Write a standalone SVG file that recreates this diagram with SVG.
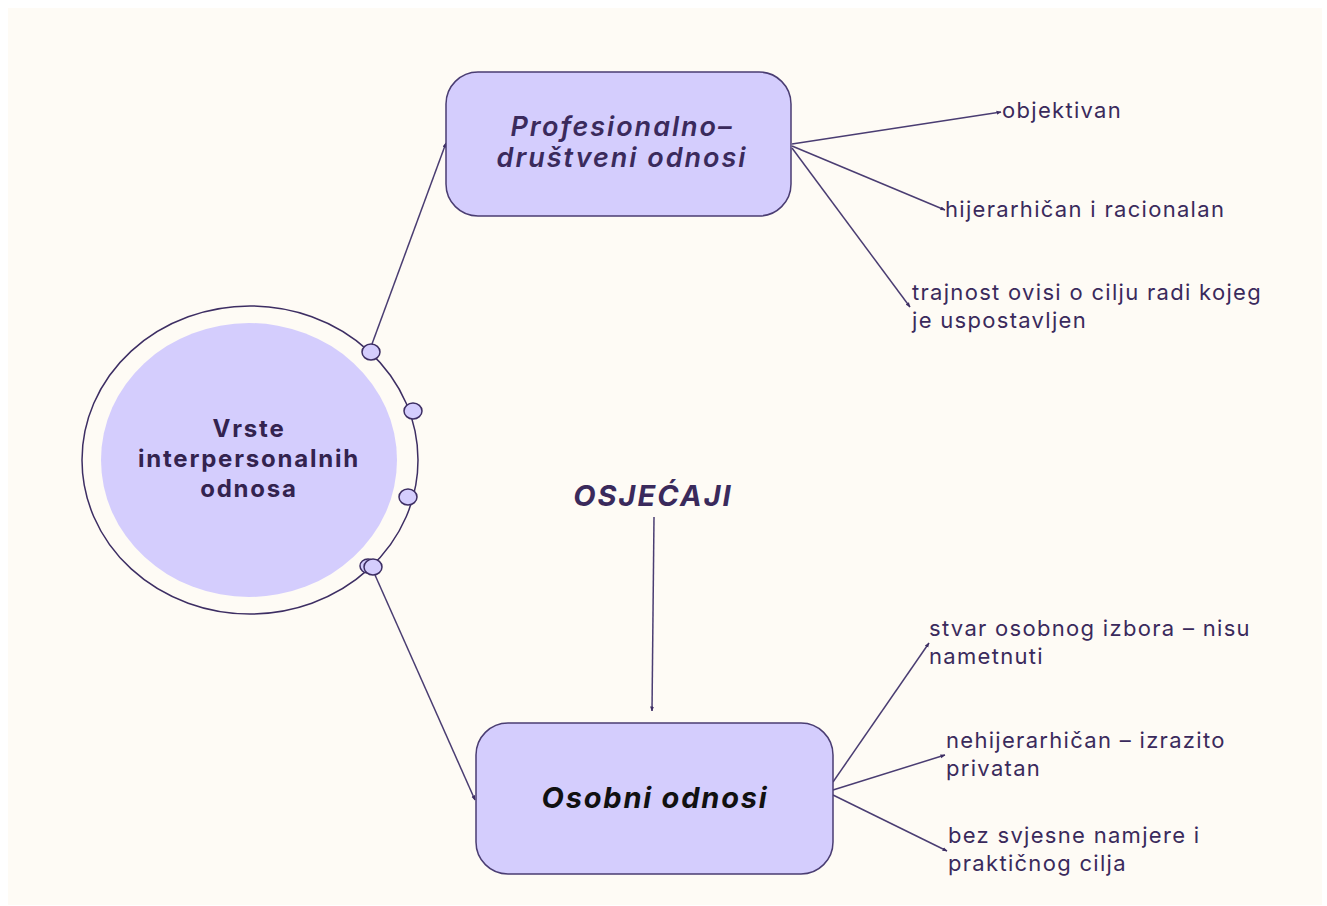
<svg xmlns="http://www.w3.org/2000/svg" width="1327" height="906" viewBox="0 0 1327 906">
<defs>
<marker id="arr" viewBox="0 0 10 10" refX="9" refY="5" markerWidth="5" markerHeight="5" orient="auto-start-reverse" markerUnits="userSpaceOnUse">
<path d="M0,1 L10,5 L0,9 z" fill="#3d2e63"/>
</marker>
<style>
.ln{stroke:#4a3d72;stroke-width:1.5;fill:none;marker-end:url(#arr)}
.box{fill:#d4cdfd;stroke:#4a3d72;stroke-width:1.5}
.dot{fill:#d4cdfd;stroke:#3d2e63;stroke-width:1.5}
.t{font-family:Inter,"Noto Sans",sans-serif;font-size:22px;letter-spacing:1.3px;fill:#3a2a5c}
.h{font-family:Inter,"Noto Sans",sans-serif;font-size:27px;letter-spacing:2px;font-style:italic;font-weight:600;fill:#3a2a5c;text-anchor:middle}
.c{font-family:Inter,"Noto Sans",sans-serif;font-size:24px;letter-spacing:1.8px;font-weight:700;fill:#33234f;text-anchor:middle}
</style>
</defs>
<rect x="8" y="8" width="1314" height="897" fill="#fefbf5"/>
<g id="connectors">
<line class="ln" x1="372" y1="344" x2="446" y2="143"/>
<line class="ln" x1="375" y1="575" x2="475" y2="800"/>
<line class="ln" x1="654" y1="517" x2="652" y2="711"/>
<line class="ln" x1="792" y1="144" x2="1001" y2="112"/>
<line class="ln" x1="792" y1="146" x2="945" y2="210"/>
<line class="ln" x1="792" y1="148" x2="910" y2="307"/>
<line class="ln" x1="833" y1="782" x2="929" y2="643"/>
<line class="ln" x1="833" y1="790" x2="945" y2="755"/>
<line class="ln" x1="833" y1="795" x2="947" y2="851"/>
</g>
<g id="center">
<ellipse cx="250" cy="460" rx="168" ry="154" fill="none" stroke="#3d2e63" stroke-width="1.5"/>
<ellipse cx="249" cy="460" rx="148" ry="137" fill="#d4cdfd"/>
<text class="c" x="249" y="437">Vrste</text>
<text class="c" x="249" y="467">interpersonalnih</text>
<text class="c" x="249" y="497">odnosa</text>
<ellipse class="dot" cx="371" cy="352" rx="9" ry="8"/>
<ellipse class="dot" cx="413" cy="411" rx="9" ry="8"/>
<ellipse class="dot" cx="408" cy="497" rx="9" ry="8"/>
<ellipse class="dot" cx="368" cy="566" rx="8" ry="7"/>
<ellipse class="dot" cx="373" cy="567" rx="9" ry="8"/>
</g>
<g id="profesionalno">
<rect class="box" x="446" y="72" width="345" height="144" rx="32"/>
<text class="h" x="622" y="136">Profesionalno–</text>
<text class="h" x="622" y="167">društveni odnosi</text>
</g>
<g id="osobni">
<rect class="box" x="476" y="723" width="357" height="151" rx="32"/>
<text class="h" x="655" y="808" style="fill:#111;font-size:29px;letter-spacing:1.8px;font-weight:700">Osobni odnosi</text>
</g>
<g id="osjecaji">
<text class="h" x="653" y="506" style="font-size:29px;font-weight:700">OSJEĆAJI</text>
</g>
<g id="objektivan"><text class="t" x="1002" y="118">objektivan</text></g>
<g id="hijerarhican"><text class="t" x="945" y="217">hijerarhičan i racionalan</text></g>
<g id="trajnost"><text class="t" x="912" y="300">trajnost ovisi o cilju radi kojeg</text><text class="t" x="912" y="328">je uspostavljen</text></g>
<g id="stvar"><text class="t" x="929" y="636">stvar osobnog izbora – nisu</text><text class="t" x="929" y="664">nametnuti</text></g>
<g id="nehijerarhican"><text class="t" x="946" y="748">nehijerarhičan – izrazito</text><text class="t" x="946" y="776">privatan</text></g>
<g id="bez"><text class="t" x="948" y="843">bez svjesne namjere i</text><text class="t" x="948" y="871">praktičnog cilja</text></g>
</svg>
